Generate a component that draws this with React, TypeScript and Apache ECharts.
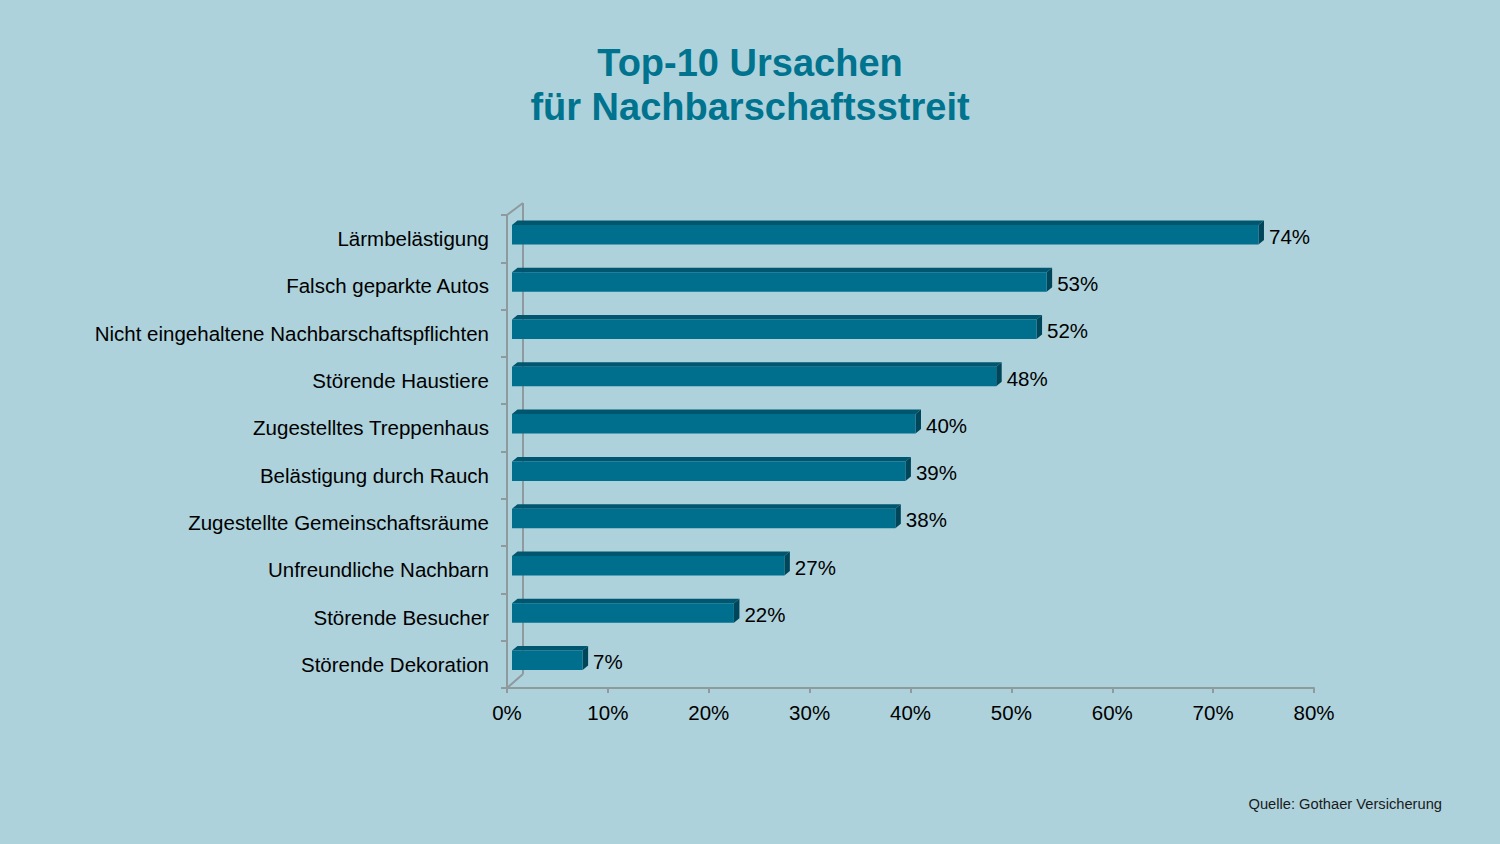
import React, { useEffect, useRef } from "react";
import * as echarts from "echarts";

const categories = [
  "Lärmbelästigung",
  "Falsch geparkte Autos",
  "Nicht eingehaltene Nachbarschaftspflichten",
  "Störende Haustiere",
  "Zugestelltes Treppenhaus",
  "Belästigung durch Rauch",
  "Zugestellte Gemeinschaftsräume",
  "Unfreundliche Nachbarn",
  "Störende Besucher",
  "Störende Dekoration",
];
const values = [74, 53, 52, 48, 40, 39, 38, 27, 22, 7];
const titleLines = ["Top-10 Ursachen", "für Nachbarschaftsstreit"];
const sourceText = "Quelle: Gothaer Versicherung";

const FONT = '"Liberation Sans", Arial, sans-serif';
const FRONT = "#006F8E";
const TOP = "#00566E";
const SIDE = "#00465A";
const AXIS = "#8E9A9E";

export default function App() {
  const ref = useRef<HTMLDivElement>(null);
  useEffect(() => {
    if (!ref.current) return;
    const chart = echarts.init(ref.current, undefined, { renderer: "svg" });
    const dx = 5.5;
    const dy = -4.5;
    const offX = 5;
    const offY = -4;
    const h = 19.5;
    chart.setOption({
      animation: false,
      backgroundColor: "#ADD2DC",
      title: {
        text: titleLines.join("\n"),
        left: "center",
        top: 36,
        textStyle: {
          fontFamily: FONT,
          fontSize: 38,
          fontWeight: "bold",
          color: "#00738F",
          lineHeight: 44,
        },
      },
      grid: { left: 507, right: 186, top: 215, bottom: 156, containLabel: false },
      xAxis: {
        type: "value",
        min: 0,
        max: 80,
        interval: 10,
        axisLine: { show: true, lineStyle: { color: AXIS, width: 2 } },
        axisTick: { show: true, length: 5, lineStyle: { color: AXIS, width: 2 } },
        splitLine: { show: false },
        axisLabel: {
          formatter: "{value}%",
          fontFamily: FONT,
          fontSize: 20.5,
          color: "#000",
          margin: 14,
        },
      },
      yAxis: {
        type: "category",
        data: categories,
        inverse: true,
        axisLine: { show: true, lineStyle: { color: AXIS, width: 2 } },
        axisTick: { show: true, length: 6, lineStyle: { color: AXIS, width: 2 } },
        axisLabel: {
          fontFamily: FONT,
          fontSize: 20.5,
          color: "#000",
          margin: 18,
        },
      },
      graphic: [
        { type: "line", shape: { x1: 507, y1: 215, x2: 523, y2: 203 }, style: { stroke: AXIS, lineWidth: 2 } },
        { type: "line", shape: { x1: 523, y1: 203, x2: 523, y2: 674 }, style: { stroke: AXIS, lineWidth: 2 } },
        { type: "line", shape: { x1: 507, y1: 688, x2: 523, y2: 674 }, style: { stroke: AXIS, lineWidth: 2 } },
        {
          type: "text",
          right: 58,
          top: 796,
          style: { text: sourceText, fontFamily: FONT, fontSize: 14.7, fill: "#1a1a1a" },
        },
      ],
      series: [
        {
          type: "custom",
          data: values.map((v, i) => [v, i]),
          renderItem: (params: any, api: any) => {
            const v = api.value(0);
            const idx = api.value(1);
            const s = api.coord([0, idx]);
            const e = api.coord([v, idx]);
            const x0 = s[0] + offX;
            const x1 = e[0] + offX;
            const yc = s[1] + offY;
            const yt = yc - h / 2;
            const yb = yc + h / 2;
            return {
              type: "group",
              children: [
                {
                  type: "polygon",
                  shape: { points: [[x0, yt], [x0 + dx, yt + dy], [x1 + dx, yt + dy], [x1, yt]] },
                  style: { fill: TOP },
                },
                {
                  type: "polygon",
                  shape: { points: [[x1, yt], [x1 + dx, yt + dy], [x1 + dx, yb + dy], [x1, yb]] },
                  style: { fill: SIDE },
                },
                {
                  type: "rect",
                  shape: { x: x0, y: yt, width: x1 - x0, height: h },
                  style: { fill: FRONT },
                },
                {
                  type: "text",
                  x: x1 + dx + 5,
                  y: yc + 1.5,
                  style: {
                    text: v + "%",
                    fontFamily: FONT,
                    fontSize: 20.5,
                    fill: "#000",
                    verticalAlign: "middle",
                    align: "left",
                  },
                },
              ],
            };
          },
        },
      ],
    });
    return () => chart.dispose();
  }, []);
  return <div ref={ref} style={{ position: "fixed", left: 0, top: 0, width: 1500, height: 844 }} />;
}
